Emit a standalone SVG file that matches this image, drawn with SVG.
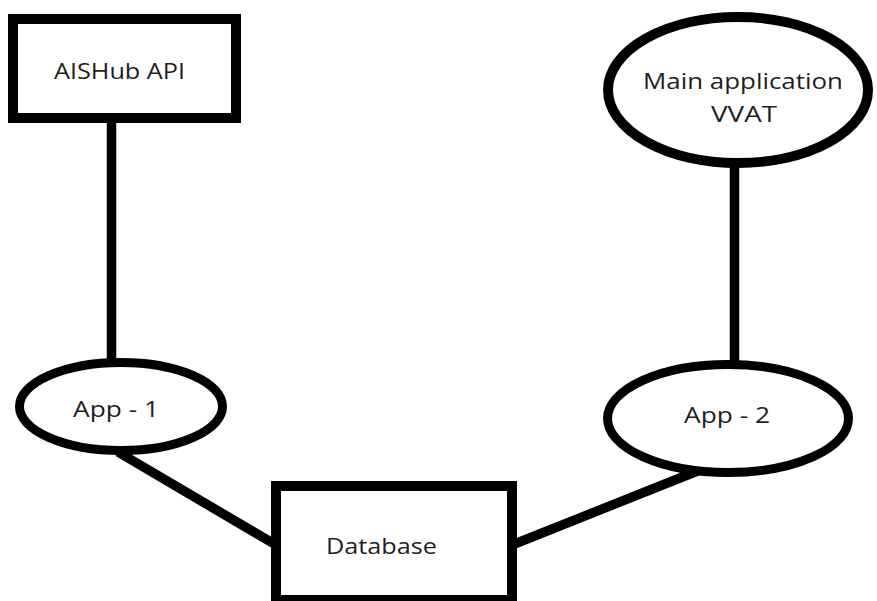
<svg xmlns="http://www.w3.org/2000/svg" width="877" height="601" viewBox="0 0 877 601">
<style>
.shape{fill:#fff;stroke:#000;stroke-width:10}
.edge{stroke:#000;stroke-width:9.5;fill:none}
.lbl{font-family:"Open Sans","Noto Sans","Liberation Sans",sans-serif;font-size:22px;fill:#1e1e1e;text-anchor:middle}
</style>
<rect width="877" height="601" fill="#fff"/>
<g id="connectors">
<line class="edge" x1="111.5" y1="118" x2="111.5" y2="364"/>
<line class="edge" x1="734.5" y1="164" x2="734.5" y2="366"/>
<line class="edge" x1="118" y1="452" x2="276" y2="545"/>
<line class="edge" x1="700" y1="470" x2="512" y2="545"/>
</g>
<g id="aishub">
<rect class="shape" x="13" y="19" width="223" height="99"/>
<text class="lbl" x="119.5" y="79" textLength="131" lengthAdjust="spacingAndGlyphs">AISHub API</text>
</g>
<g id="mainapp">
<ellipse class="shape" cx="738" cy="90" rx="130" ry="73"/>
<text class="lbl" x="743" y="89" textLength="200" lengthAdjust="spacingAndGlyphs">Main application</text>
<text class="lbl" x="744" y="122" textLength="66" lengthAdjust="spacingAndGlyphs">VVAT</text>
</g>
<g id="app1">
<ellipse class="shape" style="stroke-width:9" cx="121" cy="406.5" rx="101.5" ry="44"/>
<text class="lbl" x="116" y="417" textLength="86" lengthAdjust="spacingAndGlyphs">App - 1</text>
</g>
<g id="app2">
<ellipse class="shape" style="stroke-width:9" cx="728" cy="418.5" rx="120.5" ry="54"/>
<text class="lbl" x="727" y="423" textLength="86" lengthAdjust="spacingAndGlyphs">App - 2</text>
</g>
<g id="database">
<rect class="shape" x="276" y="486" width="236" height="114"/>
<text class="lbl" x="381.5" y="554" textLength="111" lengthAdjust="spacingAndGlyphs">Database</text>
</g>
</svg>
